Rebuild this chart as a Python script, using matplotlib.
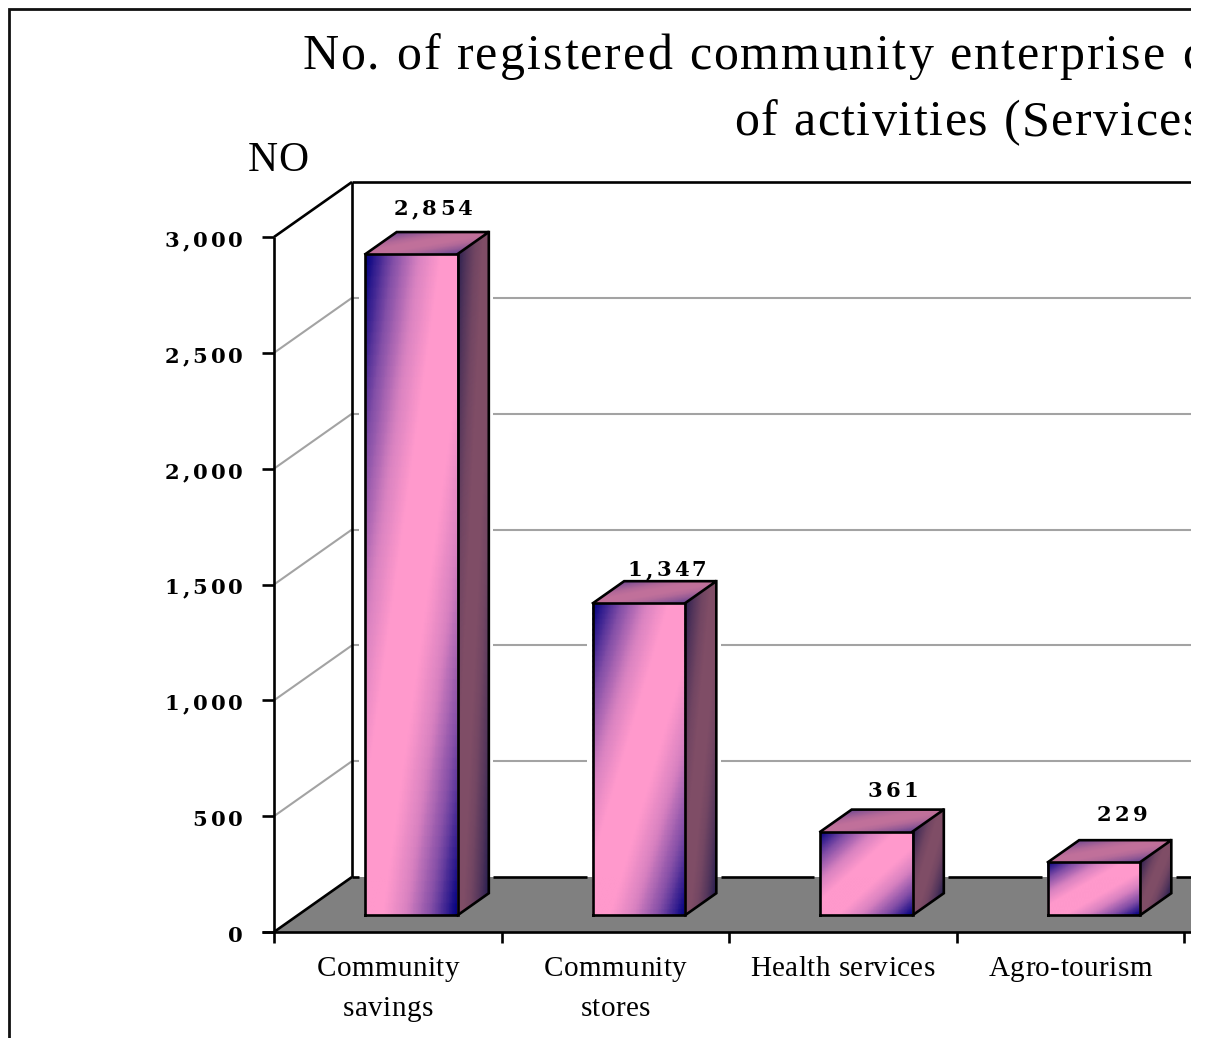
import numpy as np
import matplotlib
matplotlib.use('Agg')
import matplotlib.pyplot as plt
from matplotlib.colors import LinearSegmentedColormap, to_rgb
from matplotlib.font_manager import findfont
from matplotlib.ft2font import FT2Font, LoadFlags
from matplotlib.text import Text
from matplotlib.transforms import Affine2D, Bbox, IdentityTransform

categories = ['Community\nsavings', 'Community\nstores', 'Health services', 'Agro-tourism']
values = [2854, 1347, 361, 229]
yticks = [0, 500, 1000, 1500, 2000, 2500, 3000]
title_lines = ['No. of registered community enterprise c', 'of activities (Services']
ylabel = 'NO'

# size of the canvas and the plot scales, in pixels
WIDTH, HEIGHT, RIGHT = 1211, 1038, 1191
X0, Y0 = 274, 932
CAT_W = 227.5
VAL_H = 695 / 3000
DEPTH_X = 78 / CAT_W
DEPTH_Y = 55 / VAL_H
BAR_W = 0.405
BAR_D0, BAR_D1 = 0.305, 0.705

GRID = '#a3a3a3'
FLOOR = '#808080'
LW = 1.9
GRID_LW = 1.5

# end and middle colours of the blend on each bar face
FRONT = ('#000080', '#ff99cc')
SIDE = ('#2a1f50', '#7f4d66')
TOP = ('#6a4590', '#c0709a')
# position along the diagonal, share of the middle colour
BLEND = [(0, 0), (0.15, 0.5), (0.29, 0.85), (0.41, 1), (0.6, 1), (0.72, 0.85), (0.86, 0.5), (1, 0)]


class SpacedText(Text):
    '''
    Text with extra pixels between the glyphs
    '''
    def __init__(self, *args, tracking=0, **kwargs):
        super().__init__(*args, **kwargs)
        self.tracking = tracking

    def advances(self):
        font = FT2Font(findfont(self.get_fontproperties()))
        font.set_size(self.get_fontsize(), self.get_figure().dpi)
        return [font.load_char(ord(c), flags=LoadFlags.NO_HINTING).linearHoriAdvance / 65536
                for c in self.get_text()]

    def start_x(self, x, adv):
        total = sum(adv) + self.tracking * (len(adv) - 1)
        return x - total * {'left': 0, 'center': 0.5, 'right': 1}[self.get_ha()], total

    def get_window_extent(self, renderer=None, dpi=None):
        box = super().get_window_extent(renderer, dpi)
        x, y = self.get_transform().transform(self.get_unitless_position())
        x0, total = self.start_x(x, self.advances())
        return Bbox([[x0, box.y0], [x0 + total, box.y1]])

    def draw(self, renderer):
        full, ha, trans = self.get_text(), self.get_ha(), self.get_transform()
        px, py = self.get_unitless_position()
        x, y = trans.transform((px, py))
        adv = self.advances()
        pen = self.start_x(x, adv)[0]
        self.set_ha('left')
        self.set_transform(IdentityTransform())
        for c, a in zip(full, adv):
            if c != ' ':
                self.set_text(c)
                self.set_position((pen, y))
                super().draw(renderer)
            pen += a + self.tracking
        self.set_text(full)
        self.set_ha(ha)
        self.set_transform(trans)
        self.set_position((px, py))


def project(cat, val, depth=0.0):
    '''
    Category/value position pushed back along the depth of the box
    '''
    return cat + depth * DEPTH_X, val + depth * DEPTH_Y


def line(x, y, color='black', lw=LW, zorder=2):
    ax.plot(x, y, color=color, lw=lw, zorder=zorder, solid_capstyle='butt')


def shade(corner, du, dv, colors, zorder):
    '''
    Diagonal blend over a parallelogram face, the end colour in two opposite corners
    '''
    u, v = np.meshgrid(np.linspace(0, 1, 60), np.linspace(0, 1, 60))
    xs = corner[0] + u * du[0] + v * dv[0]
    ys = corner[1] + u * du[1] + v * dv[1]
    end, mid = np.array(to_rgb(colors[0])), np.array(to_rgb(colors[1]))
    cmap = LinearSegmentedColormap.from_list('face', [(p, tuple(end + s * (mid - end))) for p, s in BLEND])
    ax.pcolormesh(xs, ys, (u + v) / 2, cmap=cmap, vmin=0, vmax=1, shading='gouraud', zorder=zorder)


def broken_line(val, color, lw):
    '''
    Line along the back wall, stopping short of every bar taller than it
    '''
    start = project(0, val, 1)[0]
    y = project(0, val, 1)[1]
    for i, bar in enumerate(values):
        if bar > val:
            left = project(i + 0.5 - BAR_W / 2, 0, BAR_D0)[0]
            right = project(i + 0.5 + BAR_W / 2, 0, BAR_D1)[0]
            line([start, left - 6 / CAT_W], [y, y], color, lw)
            start = right + 4.5 / CAT_W
    line([start, xmax], [y, y], color, lw)


def label(x, y, s, size, tracking, ha='center', weight='normal', family='Liberation Serif', trans=None):
    t = SpacedText(x, y, s, tracking=tracking, ha=ha, va='baseline', fontsize=size, fontweight=weight,
                   family=family, color='black', transform=trans or ax.transData, clip_on=True)
    ax.add_artist(t)


fig = plt.figure(figsize=(WIDTH / 100, HEIGHT / 100), dpi=100)
ax = fig.add_axes([0, 0, RIGHT / WIDTH, 1])
xmax = (RIGHT - X0) / CAT_W
ax.set_xlim(-X0 / CAT_W, xmax)
ax.set_ylim(-(HEIGHT - Y0) / VAL_H, Y0 / VAL_H)
ax.axis('off')

# pixel positions for the frame and the titles
px = Affine2D().scale(1, -1).translate(0, HEIGHT)
ax.plot([9, 9, RIGHT], [HEIGHT, 9, 9], color='#111111', lw=2.0, transform=px, zorder=1,
        solid_joinstyle='miter')

label(302, 69, title_lines[0], 36, 2.05, ha='left', trans=px)
label(734, 135, title_lines[1], 36, 1.6, ha='left', trans=px)
label(278, 171, ylabel, 30, 1, trans=px)

# floor, walls and gridlines
fx = [project(0, 0)[0], project(0, 0, 1)[0], xmax, xmax]
fy = [0, project(0, 0, 1)[1], project(0, 0, 1)[1], 0]
ax.fill(fx, fy, color=FLOOR, lw=0, zorder=1)
for val in yticks[1:-1]:
    bx, by = project(0, val, 1)
    line([0, bx], [val, by], GRID, GRID_LW)
    broken_line(val, GRID, GRID_LW)
top = yticks[-1]
bx, by = project(0, top, 1)
bx0, by0 = project(0, 0, 1)
line([0, bx], [top, by])
line([bx, xmax], [by, by])
line([bx, bx], [by0, by])
line([0, 0], [0, top])
line([0, bx0], [0, by0])
broken_line(0, 'black', LW)
line([-12 / CAT_W, xmax], [0, 0])

# axis ticks and labels
for val in yticks:
    line([-12 / CAT_W, 0], [val, val])
    label(-31 / CAT_W, val - 10 / VAL_H, f'{val:,}', 15.2, 3.1, ha='right', weight='bold', family='DejaVu Serif')
for i in range(len(categories) + 1):
    line([i, i], [0, -11 / VAL_H])
for i, name in enumerate(categories):
    for j, part in enumerate(name.split('\n')):
        label(i + 0.5, -(44.5 + 40 * j) / VAL_H, part, 21, 0.4)

# bars, label offsets are in pixels from the middle of the front face
label_dx = [21.5, 28, 26.5, 28]
label_dy = [-17, -5, -13, -19]
for i, val in enumerate(values):
    x0, x1 = i + 0.5 - BAR_W / 2, i + 0.5 + BAR_W / 2
    fl = project(x0, 0, BAR_D0)
    fr = project(x1, 0, BAR_D0)
    tl = project(x0, val, BAR_D0)
    tr = project(x1, val, BAR_D0)
    back_l = project(x0, val, BAR_D1)
    back_r = project(x1, val, BAR_D1)
    base_r = project(x1, 0, BAR_D1)
    dx, dy = back_r[0] - tr[0], back_r[1] - tr[1]
    w = tr[0] - tl[0]
    z = 3 + i

    shade(tl, (w, 0), (0, -(tl[1] - fl[1])), FRONT, z)
    shade(tr, (dx, dy), (0, -(tr[1] - fr[1])), SIDE, z)
    shade(back_l, (w, 0), (-dx, -dy), TOP, z)
    for xs, ys in [([fl[0], fr[0], tr[0], tl[0], fl[0]], [fl[1], fr[1], tr[1], tl[1], fl[1]]),
                   ([tl[0], back_l[0], back_r[0], tr[0]], [tl[1], back_l[1], back_r[1], tr[1]]),
                   ([back_r[0], base_r[0], fr[0]], [back_r[1], base_r[1], fr[1]])]:
        ax.plot(xs, ys, color='black', lw=LW, zorder=z + 0.5, solid_joinstyle='miter')
    label(i + 0.5 + (BAR_D0 * DEPTH_X) + label_dx[i] / CAT_W, back_r[1] - label_dy[i] / VAL_H, f'{val:,}',
          15.2, 3.1, weight='bold', family='DejaVu Serif')

fig.savefig('out.png', dpi=100, facecolor='white')
